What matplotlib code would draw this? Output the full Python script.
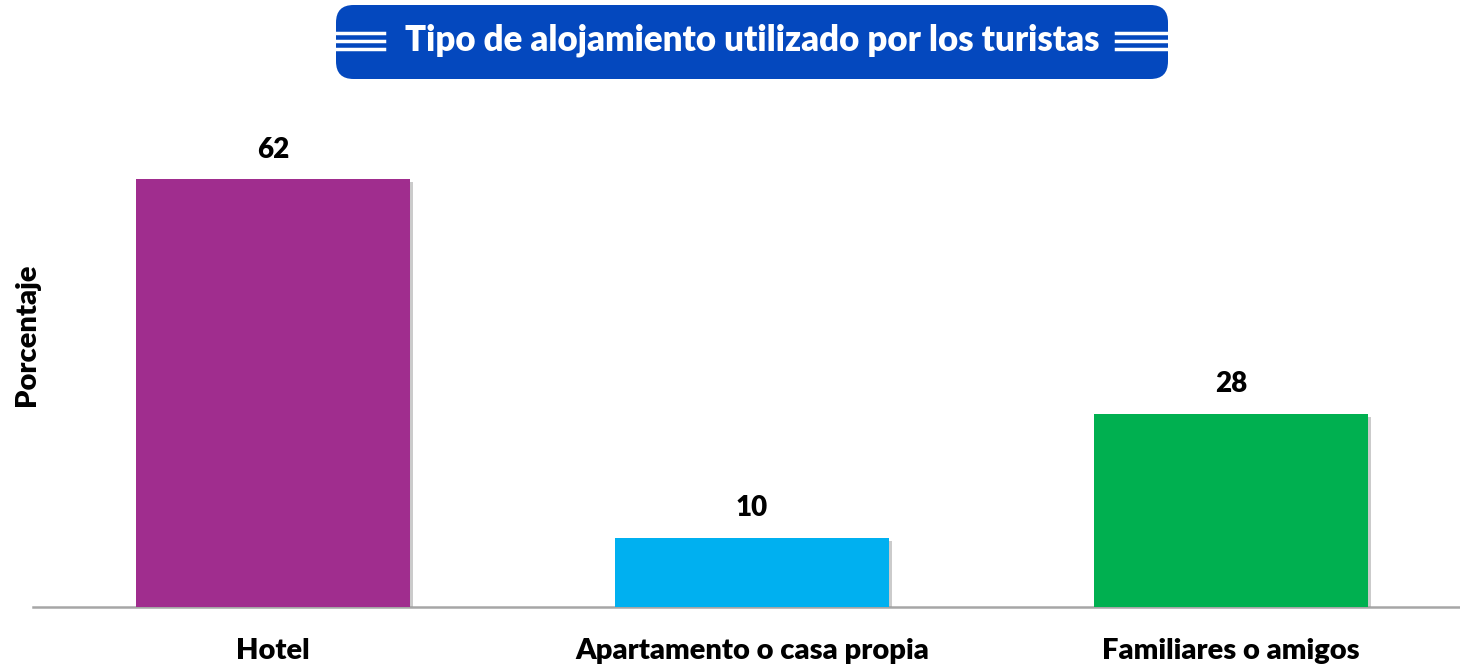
import matplotlib
matplotlib.use("Agg")
import matplotlib.pyplot as plt
from matplotlib.patches import FancyBboxPatch
import matplotlib.patheffects as pe

categories = ["Hotel", "Apartamento o casa propia", "Familiares o amigos"]
values = [62, 10, 28]
colors = ["#A02D8E", "#00B0F0", "#00B050"]
title = "Tipo de alojamiento utilizado por los turistas"
ylabel = "Porcentaje"

FONT = ["Lato", "DejaVu Sans"]
plt.rcParams['font.family'] = FONT

W, H = 1460, 665
fig = plt.figure(figsize=(W / 100, H / 100), dpi=100)

ymax = 72
px_per_unit = 6.9
ax_top = 607 - ymax * px_per_unit
ax = fig.add_axes([33 / W, (H - 607) / H, (1460 - 33) / W, (607 - ax_top) / H])
x = list(range(len(categories)))
bars = ax.bar(x, values, width=0.572, color=colors, zorder=3)
for b in bars:
    b.set_path_effects([pe.SimplePatchShadow(offset=(2, -2), shadow_rgbFace="#999999", alpha=0.5), pe.Normal()])
ax.set_xlim(-0.501, 2.478)
ax.set_ylim(0, ymax)
for s in ["top", "right", "left"]:
    ax.spines[s].set_visible(False)
ax.spines["bottom"].set_color("#A6A6A6")
ax.spines["bottom"].set_linewidth(1.8)
ax.set_yticks([])
ax.set_xticks(x)
ax.set_xticklabels(categories, fontsize=21, fontweight="heavy")
ax.tick_params(axis="x", length=0, pad=22)
for xi, v in zip(x, values):
    ax.annotate(str(v), (xi, v), xytext=(0, 12), textcoords="offset points",
                ha="center", va="bottom", fontsize=20, fontweight="heavy")

fig.text(27 / W, 1 - 335 / H, ylabel, rotation=90, ha="center", va="center",
         fontsize=21, fontweight="heavy")

# title banner
bx0, bx1, by0, by1 = 336, 1168, 5, 79
box = FancyBboxPatch((bx0 / W, 1 - by1 / H), (bx1 - bx0) / W, (by1 - by0) / H,
                     boxstyle="round,pad=0,rounding_size=0.012",
                     transform=fig.transFigure, facecolor="#0448BE", edgecolor="none",
                     mutation_aspect=W / H)
fig.patches.append(box)
fig.text(752 / W, 1 - 40 / H, title, ha="center", va="center",
         fontsize=25, fontweight="heavy", color="white")
for (lx0, lx1) in [(336, 384), (1116, 1168)]:
    for ly in [33, 41, 49]:
        fig.add_artist(plt.Line2D([lx0 / W, lx1 / W], [1 - ly / H, 1 - ly / H],
                                  transform=fig.transFigure, color="white", lw=2.5))

fig.savefig("out.png", dpi=100)
